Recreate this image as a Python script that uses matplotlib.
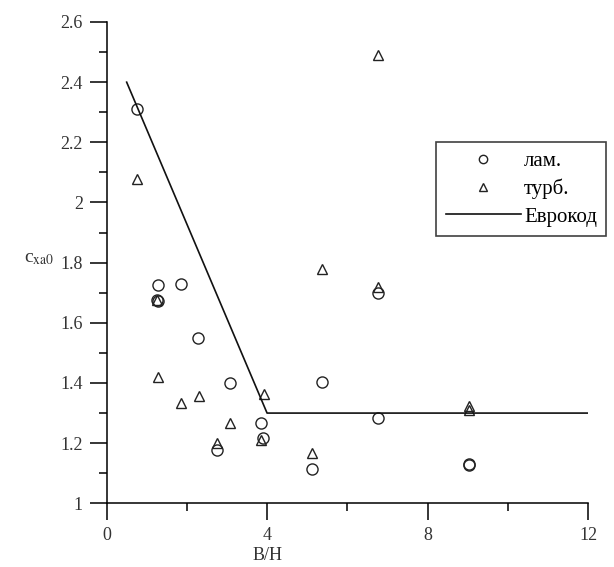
import numpy as np
import matplotlib
matplotlib.use("Agg")
import matplotlib.pyplot as plt
from matplotlib.ticker import MultipleLocator

plt.rcParams['font.family'] = ['Liberation Serif', 'DejaVu Serif']
plt.rcParams['mathtext.fontset'] = 'stix'

# laminar flow (circles)
lam_x = [0.75, 1.29, 1.85, 1.25, 1.27, 2.28, 3.07, 3.85, 3.89, 2.76, 5.12, 5.36, 6.77, 6.77, 9.03, 9.03]
lam_y = [2.31, 1.726, 1.729, 1.676, 1.672, 1.549, 1.399, 1.268, 1.216, 1.177, 1.114, 1.404, 1.70, 1.283, 1.131, 1.127]

# turbulent flow (triangles)
turb_x = [0.77, 1.25, 1.29, 1.85, 2.30, 2.76, 3.07, 3.92, 3.85, 5.12, 5.36, 6.77, 6.77, 9.03, 9.03]
turb_y = [2.077, 1.676, 1.421, 1.333, 1.358, 1.20, 1.266, 1.363, 1.21, 1.166, 1.78, 2.49, 1.72, 1.324, 1.31]

# Eurocode curve
euro_x = [0.5, 4.0, 12.0]
euro_y = [2.4, 1.3, 1.3]

fig = plt.figure(figsize=(6.14, 5.67), dpi=100)
ax = fig.add_axes([0.1736, 0.1123, 0.7841, 0.8489])

ax.plot(lam_x, lam_y, linestyle='none', marker='o', markersize=8,
		markerfacecolor='none', markeredgecolor='#222222', markeredgewidth=1.0, label='лам.')
ax.plot(turb_x, turb_y, linestyle='none', marker='^', markersize=7.5,
		markerfacecolor='none', markeredgecolor='#222222', markeredgewidth=1.0, label='турб.')
ax.plot(euro_x, euro_y, color='#111111', linewidth=1.2, label='Еврокод')

ax.set_xlim(0, 12)
ax.set_ylim(1, 2.6)
ax.xaxis.set_major_locator(MultipleLocator(4))
ax.xaxis.set_minor_locator(MultipleLocator(2))
ax.yaxis.set_major_locator(MultipleLocator(0.2))
ax.yaxis.set_minor_locator(MultipleLocator(0.1))
ax.xaxis.set_major_formatter(plt.FuncFormatter(lambda v, p: '%g' % v))
ax.yaxis.set_major_formatter(plt.FuncFormatter(lambda v, p: '%g' % round(v, 1)))

ax.spines["top"].set_visible(False)
ax.spines["right"].set_visible(False)
ax.spines["left"].set_linewidth(1.1)
ax.spines["bottom"].set_linewidth(1.1)
ax.tick_params(which='major', direction='out', length=12, width=1.1, labelsize=13,
			   labelcolor='#333333', pad=5)
ax.tick_params(which='minor', direction='out', length=6, width=1.1)

ax.set_xlabel('B/H', fontsize=13, color='#333333')
ax.xaxis.set_label_coords(0.335, -0.09)
ax.set_ylabel(r'c$_{\mathrm{xa0}}$', fontsize=14, color='#333333', rotation=0)
ax.yaxis.set_label_coords(-0.14, 0.49)

leg = ax.legend(loc='upper left', bbox_to_anchor=(0.685, 0.751), fontsize=15,
				frameon=True, fancybox=False, edgecolor='#111111', handlelength=3.6,
				handletextpad=0.15, borderpad=0.45, labelspacing=0.38, borderaxespad=0,
				markerscale=0.75)
leg.get_frame().set_linewidth(1.2)

fig.savefig('out.png', dpi=100)
